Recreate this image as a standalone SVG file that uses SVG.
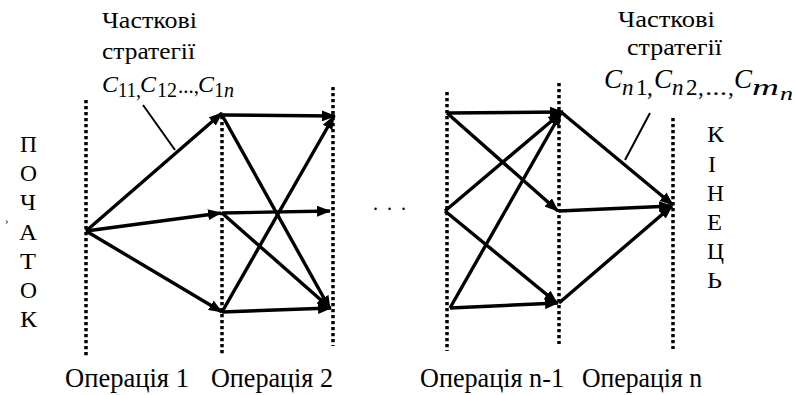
<svg xmlns="http://www.w3.org/2000/svg" width="795" height="395" viewBox="0 0 795 395">
<defs>
<marker id="ah" markerUnits="userSpaceOnUse" markerWidth="14" markerHeight="11" refX="13" refY="5.5" orient="auto">
<path d="M0,0 L14,5.5 L0,11 Z" fill="#000"/>
</marker>
<style>
text{font-family:'Liberation Serif','Times New Roman','DejaVu Serif',serif;fill:#000}
.dot{stroke:#000;stroke-width:3.5;stroke-dasharray:3.3 2.7;fill:none}
.ar{stroke:#000;stroke-width:3.4;fill:none;marker-end:url(#ah)}
.thin{stroke:#000;stroke-width:2;fill:none}
.v{font-size:23px}
.i{font-style:italic}
.op{font-size:27px}
</style>
</defs>
<rect width="795" height="395" fill="#fff"/>

<g id="op1">
<line class="dot" x1="86" y1="100" x2="86" y2="356"/>
<text class="op" x="65" y="387" textLength="124" lengthAdjust="spacingAndGlyphs">Операція 1</text>
</g>
<g id="op2">
<line class="dot" x1="222" y1="116" x2="222" y2="354"/>
<text class="op" x="211" y="387" textLength="122" lengthAdjust="spacingAndGlyphs">Операція 2</text>
</g>
<g id="op3">
<line class="dot" x1="333" y1="87" x2="333" y2="346"/>
</g>
<g id="opn1">
<line class="dot" x1="447" y1="92" x2="447" y2="351"/>
<text class="op" x="420" y="387" textLength="144" lengthAdjust="spacingAndGlyphs">Операція n-1</text>
</g>
<g id="opn">
<line class="dot" x1="559" y1="83" x2="559" y2="344"/>
<text class="op" x="582" y="387" textLength="120" lengthAdjust="spacingAndGlyphs">Операція n</text>
</g>
<g id="end">
<line class="dot" x1="673" y1="118" x2="673" y2="349"/>
</g>

<g id="start-label">
<text class="v" x="20" y="152" textLength="17" lengthAdjust="spacingAndGlyphs">П</text>
<text class="v" x="20" y="181" textLength="17" lengthAdjust="spacingAndGlyphs">О</text>
<text class="v" x="20" y="210" textLength="16" lengthAdjust="spacingAndGlyphs">Ч</text>
<text class="v" x="19" y="240" textLength="18" lengthAdjust="spacingAndGlyphs">А</text>
<text class="v" x="20" y="269" textLength="16" lengthAdjust="spacingAndGlyphs">Т</text>
<text class="v" x="20" y="298" textLength="17" lengthAdjust="spacingAndGlyphs">О</text>
<text class="v" x="20" y="327" textLength="17" lengthAdjust="spacingAndGlyphs">К</text>
<text x="5" y="224" font-size="10">›</text>
</g>
<g id="end-label">
<text class="v" x="707" y="142" textLength="17" lengthAdjust="spacingAndGlyphs">К</text>
<text class="v" x="708" y="172" textLength="8" lengthAdjust="spacingAndGlyphs">І</text>
<text class="v" x="707" y="201" textLength="17" lengthAdjust="spacingAndGlyphs">Н</text>
<text class="v" x="707" y="230" textLength="15" lengthAdjust="spacingAndGlyphs">Е</text>
<text class="v" x="707" y="259" textLength="17" lengthAdjust="spacingAndGlyphs">Ц</text>
<text class="v" x="707" y="288" textLength="15" lengthAdjust="spacingAndGlyphs">Ь</text>
</g>

<g id="label-left">
<text x="102" y="28" font-size="24" textLength="95" lengthAdjust="spacingAndGlyphs">Часткові</text>
<text x="102" y="59" font-size="24" textLength="93" lengthAdjust="spacingAndGlyphs">стратегії</text>
<text class="i" x="102" y="92" font-size="24">C</text>
<text x="118" y="97" font-size="20" textLength="18" lengthAdjust="spacingAndGlyphs">11</text>
<text x="136" y="97" font-size="20">,</text>
<text class="i" x="140" y="92" font-size="24">C</text>
<text x="157" y="97" font-size="20" textLength="20" lengthAdjust="spacingAndGlyphs">12</text>
<text x="178" y="93" font-size="20" textLength="21" lengthAdjust="spacingAndGlyphs">...,</text>
<text class="i" x="198" y="92" font-size="24">C</text>
<text x="214" y="97" font-size="20">1</text>
<text class="i" x="224" y="97" font-size="20">n</text>
<line class="thin" x1="143" y1="105" x2="175" y2="150"/>
</g>

<g id="label-right">
<text x="618" y="27" font-size="24" textLength="97" lengthAdjust="spacingAndGlyphs">Часткові</text>
<text x="627" y="55" font-size="24" textLength="95" lengthAdjust="spacingAndGlyphs">стратегії</text>
<text class="i" x="604" y="88" font-size="27">C</text>
<text class="i" x="622" y="95" font-size="23">n</text>
<text x="636" y="95" font-size="23">1</text>
<text x="647" y="95" font-size="23">,</text>
<text class="i" x="654" y="88" font-size="27">C</text>
<text class="i" x="672" y="95" font-size="23">n</text>
<text x="686" y="95" font-size="23">2</text>
<text x="698" y="95" font-size="23">,</text>
<text x="705" y="95" font-size="23" textLength="22" lengthAdjust="spacingAndGlyphs">...</text>
<text x="728" y="95" font-size="23">,</text>
<text class="i" x="734" y="88" font-size="27">C</text>
<text class="i" x="752" y="95" font-size="23" textLength="27" lengthAdjust="spacingAndGlyphs">m</text>
<text class="i" x="780" y="100" font-size="19" textLength="13" lengthAdjust="spacingAndGlyphs">n</text>
<line class="thin" x1="650" y1="113" x2="625" y2="160"/>
</g>

<g id="ellipsis">
<text x="373 387 401" y="210" font-size="20">...</text>
</g>

<g id="connectors">
<line class="ar" x1="86" y1="231" x2="222" y2="113"/>
<line class="ar" x1="86" y1="231" x2="221" y2="213"/>
<line class="ar" x1="86" y1="231" x2="222" y2="312"/>
<line class="ar" x1="222" y1="115" x2="335" y2="116"/>
<line class="ar" x1="222" y1="115" x2="330" y2="309"/>
<line class="ar" x1="222" y1="213" x2="330" y2="211"/>
<line class="ar" x1="222" y1="213" x2="330" y2="308"/>
<line class="ar" x1="222" y1="312" x2="331" y2="308"/>
<line class="ar" x1="222" y1="312" x2="334" y2="116"/>
<line class="ar" x1="447" y1="113" x2="563" y2="112"/>
<line class="ar" x1="447" y1="113" x2="558" y2="211"/>
<line class="ar" x1="445" y1="211" x2="561" y2="113"/>
<line class="ar" x1="445" y1="211" x2="557" y2="303"/>
<line class="ar" x1="450" y1="308" x2="561" y2="113"/>
<line class="ar" x1="450" y1="308" x2="558" y2="303"/>
<line class="ar" x1="561" y1="112" x2="673" y2="205"/>
<line class="ar" x1="559" y1="211" x2="672" y2="206"/>
<line class="ar" x1="559" y1="303" x2="672" y2="206"/>
</g>
</svg>
